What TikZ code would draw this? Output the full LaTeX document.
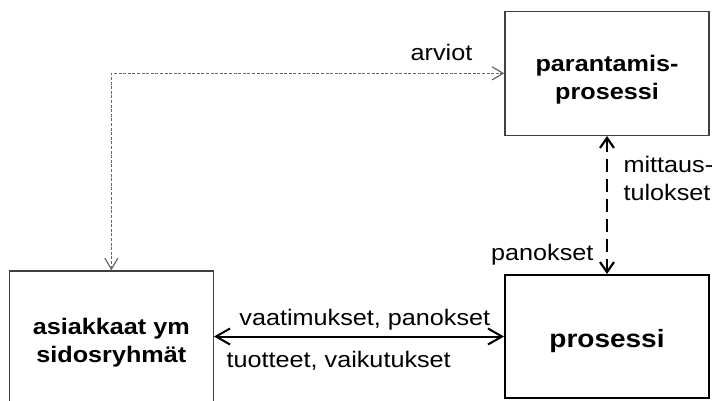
\documentclass[tikz,border=0pt]{standalone}
\usepackage{fontspec}
\setmainfont{Liberation Sans}[FakeStretch=1.12]
\usetikzlibrary{arrows.meta, positioning}

\begin{document}
\begin{tikzpicture}[
        x=1pt, y=-1pt,
        node distance=138pt and 290pt,
        font=\fontsize{22.5}{28}\selectfont,
        box/.style={rectangle, draw=black!75, line width=1.3pt, align=center, minimum width=204pt, minimum height=124pt, font=\fontsize{22.5}{28.5}\selectfont\bfseries},
        mainbox/.style={box, draw=black, line width=2pt, minimum height=123pt, font=\fontsize{25}{30}\selectfont\bfseries},
        estimate/.style={draw=black!60, line width=1.2pt, dash pattern=on 3pt off 1.6pt, {Straight Barb[length=11pt, width=13pt]}-{Straight Barb[length=11pt, width=13pt]}},
        measure/.style={line width=2.5pt, dash pattern=on 13pt off 7pt, {Straight Barb[length=10pt, width=14pt, line width=2.2pt]}-{Straight Barb[length=10pt, width=14pt, line width=2.2pt]}},
        flow/.style={line width=2pt, {Straight Barb[length=14pt, width=16pt]}-{Straight Barb[length=14pt, width=16pt]}}
    ]

    \useasboundingbox (0,0) rectangle (715,401);
    \clip (0,0) rectangle (715,401);

    % --- Boxes ---
    \node (prosessi) [mainbox, text height=27pt] at (607,336.5) {prosessi};
    \node (parantamis) [box, above=of prosessi, text height=57pt] {parantamis-\\prosessi};
    \node (asiakkaat) [box, left=of prosessi, yshift=-6pt, minimum height=143pt] {asiakkaat ym\\sidosryhmät};

    % --- Estimates back to the improvement process ---
    \draw[estimate] (asiakkaat.north) |- node[above=8.7pt, pos=0.92] {arviot} (parantamis.west);

    % --- Measurements and inputs ---
    \draw[measure] (parantamis.south) -- node[right=12pt, pos=0.31, align=left] {mittaus-\\tulokset}
        node[left=9pt, pos=0.86] {panokset} (prosessi.north);

    % --- Requirements / outputs ---
    \draw[flow] (asiakkaat.east |- prosessi.west) -- node[above=2pt, pos=0.52] {vaatimukset, panokset}
        node[below=10pt, pos=0.43] {tuotteet, vaikutukset} (prosessi.west);

\end{tikzpicture}
\end{document}
